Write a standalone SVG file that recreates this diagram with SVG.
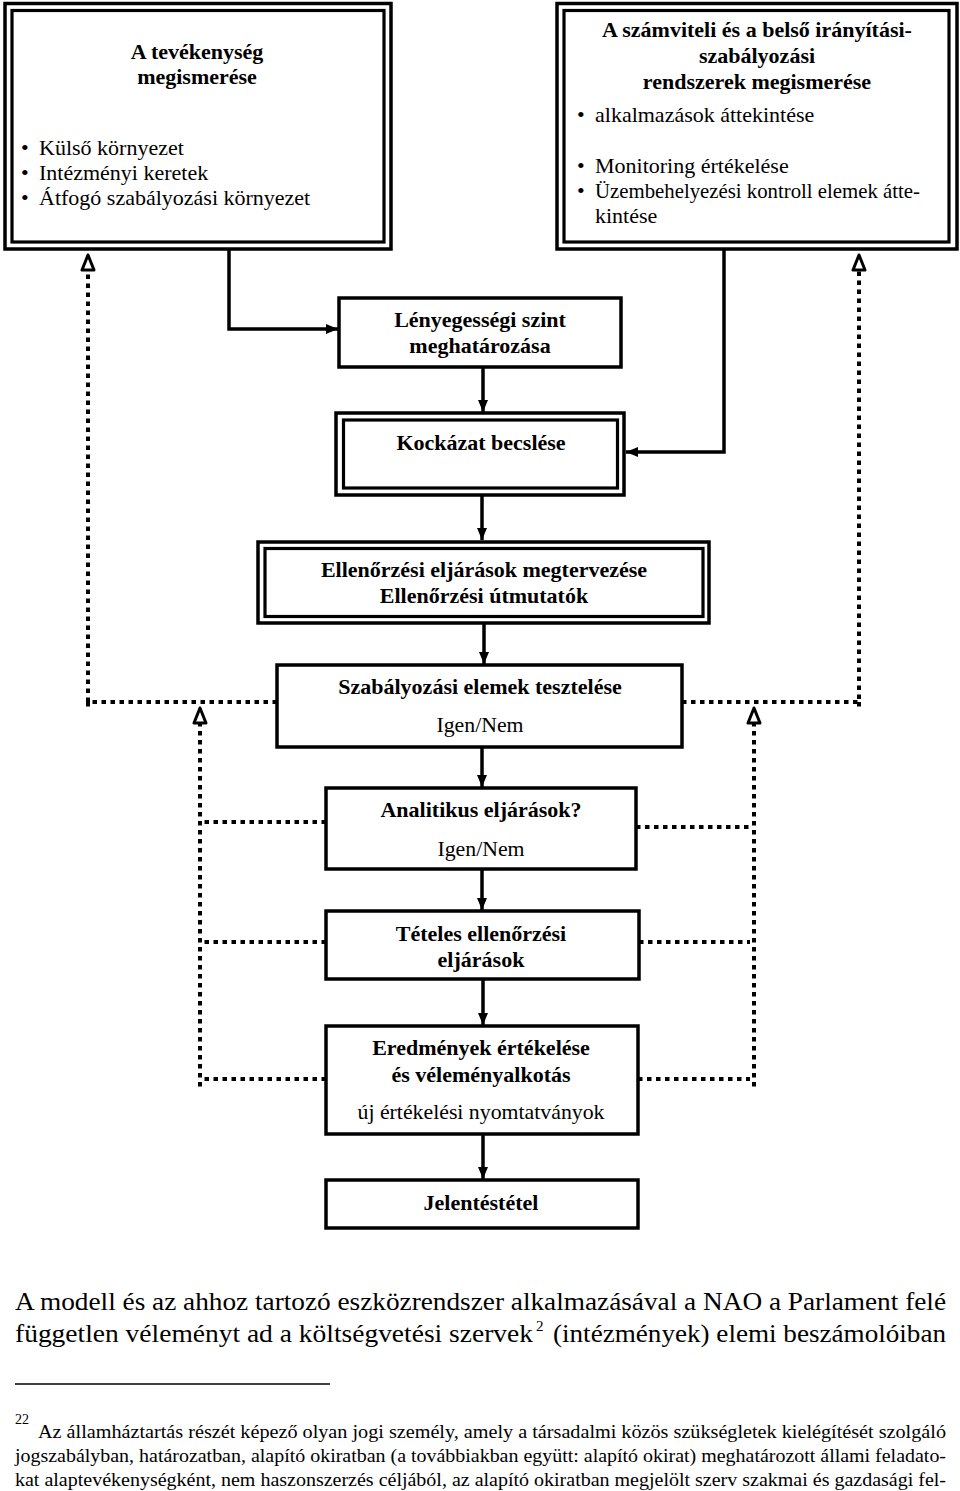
<svg xmlns="http://www.w3.org/2000/svg" width="960" height="1491" viewBox="0 0 960 1491">
<style>
.box{fill:#fff;stroke:#000;stroke-width:3.5}
.in{fill:none;stroke:#000;stroke-width:3.2}
.t{font-family:"Liberation Serif","Times New Roman",serif;font-size:22px;fill:#000}
.r21{font-size:21.8px}
.b{font-weight:bold}
.c{text-anchor:middle}
.solid{fill:none;stroke:#000;stroke-width:3.5;marker-end:url(#arr)}
.dot{fill:none;stroke:#000;stroke-width:4;stroke-dasharray:4.5 4.5}
.oh{fill:#fff;stroke:#000;stroke-width:3;stroke-linejoin:round}
.p{font-family:"Liberation Serif","Times New Roman",serif;font-size:26px;fill:#000}
.f{font-family:"Liberation Serif","Times New Roman",serif;font-size:19px;fill:#000}
</style>
<defs>
<marker id="arr" viewBox="0 0 12 10" refX="12" refY="5" markerWidth="12" markerHeight="10" markerUnits="userSpaceOnUse" orient="auto">
<path d="M0,0 L12,5 L0,10 z" fill="#000"/>
</marker>
</defs>
<rect width="960" height="1491" fill="#fff"/>

<g id="connectors">
<polyline class="solid" points="229,250 229,329 338,329"/>
<polyline class="solid" points="724,249 724,452 626,452"/>
<line class="solid" x1="483" y1="367" x2="483" y2="412"/>
<line class="solid" x1="482" y1="495" x2="482" y2="540"/>
<line class="solid" x1="484" y1="623" x2="484" y2="664"/>
<line class="solid" x1="482" y1="747" x2="482" y2="787"/>
<line class="solid" x1="482" y1="869" x2="482" y2="910"/>
<line class="solid" x1="483" y1="979" x2="483" y2="1025"/>
<line class="solid" x1="483" y1="1134" x2="483" y2="1179"/>
<polyline class="dot" points="277,702 88,702 88,268"/>
<line class="dot" x1="88" y1="702" x2="88" y2="711"/>
<polyline class="dot" points="682,702 859,702 859,268"/>
<line class="dot" x1="859" y1="702" x2="859" y2="711"/>
<line class="dot" x1="200" y1="722" x2="200" y2="1091"/>
<line class="dot" x1="754" y1="722" x2="754" y2="1091"/>
<line class="dot" x1="326" y1="822" x2="204" y2="822"/>
<line class="dot" x1="636" y1="827" x2="750" y2="827"/>
<line class="dot" x1="326" y1="942" x2="204" y2="942"/>
<line class="dot" x1="639" y1="942" x2="750" y2="942"/>
<line class="dot" x1="326" y1="1079" x2="204" y2="1079"/>
<line class="dot" x1="638" y1="1079" x2="750" y2="1079"/>
<polygon class="oh" points="88,255 82,270 94,270"/>
<polygon class="oh" points="859,255 853,270 865,270"/>
<polygon class="oh" points="200,708 194,723 206,723"/>
<polygon class="oh" points="754,708 748,723 760,723"/>
</g>

<g id="n-tevekenyseg">
<rect class="box" x="5" y="3.5" width="386" height="245.5"/>
<rect class="in" x="12" y="10.5" width="372" height="231.5"/>
<text class="t b c" x="197" y="59">A tevékenység</text>
<text class="t b c" x="197" y="84">megismerése</text>
<text class="t" x="21" y="155">•</text>
<text class="t" x="39" y="155">Külső környezet</text>
<text class="t" x="21" y="180">•</text>
<text class="t" x="39" y="180">Intézményi keretek</text>
<text class="t" x="21" y="205">•</text>
<text class="t" x="39" y="205">Átfogó szabályozási környezet</text>
</g>

<g id="n-szamviteli">
<rect class="box" x="557" y="3.5" width="400" height="245.5"/>
<rect class="in" x="564" y="10.5" width="385" height="231.5"/>
<text class="t b c" x="757" y="37">A számviteli és a belső irányítási-</text>
<text class="t b c" x="757" y="63">szabályozási</text>
<text class="t b c" x="757" y="89">rendszerek megismerése</text>
<text class="t" x="577" y="122">•</text>
<text class="t" x="595" y="122">alkalmazások áttekintése</text>
<text class="t" x="577" y="173">•</text>
<text class="t" x="595" y="173">Monitoring értékelése</text>
<text class="t" x="577" y="198">•</text>
<text class="t" x="595" y="198" textLength="325" lengthAdjust="spacingAndGlyphs">Üzembehelyezési kontroll elemek átte-</text>
<text class="t" x="595" y="223">kintése</text>
</g>

<g id="n-lenyegesseg">
<rect class="box" x="339" y="298" width="282" height="69"/>
<text class="t b c" x="480" y="327">Lényegességi szint</text>
<text class="t b c" x="480" y="353">meghatározása</text>
</g>

<g id="n-kockazat">
<rect class="box" x="336" y="413" width="288" height="82"/>
<rect class="in" x="343.5" y="420" width="274" height="68"/>
<text class="t b c" x="481" y="450">Kockázat becslése</text>
</g>

<g id="n-ellenorzesi">
<rect class="box" x="258" y="542" width="451" height="81"/>
<rect class="in" x="265" y="548.5" width="438" height="68"/>
<text class="t b c" x="484" y="577">Ellenőrzési eljárások megtervezése</text>
<text class="t b c" x="484" y="603">Ellenőrzési útmutatók</text>
</g>

<g id="n-szabalyozasi">
<rect class="box" x="277" y="665" width="405" height="82"/>
<text class="t b c" x="480" y="694">Szabályozási elemek tesztelése</text>
<text class="t r21 c" x="480" y="732">Igen/Nem</text>
</g>

<g id="n-analitikus">
<rect class="box" x="326" y="788" width="310" height="81"/>
<text class="t b c" x="481" y="817">Analitikus eljárások?</text>
<text class="t r21 c" x="481" y="856">Igen/Nem</text>
</g>

<g id="n-teteles">
<rect class="box" x="326" y="911" width="313" height="68"/>
<text class="t b c" x="481" y="941">Tételes ellenőrzési</text>
<text class="t b c" x="481" y="967">eljárások</text>
</g>

<g id="n-eredmenyek">
<rect class="box" x="326" y="1026" width="312" height="108"/>
<text class="t b c" x="481" y="1055">Eredmények értékelése</text>
<text class="t b c" x="481" y="1082">és véleményalkotás</text>
<text class="t r21 c" x="481" y="1119">új értékelési nyomtatványok</text>
</g>

<g id="n-jelentes">
<rect class="box" x="326" y="1180" width="312" height="48"/>
<text class="t b c" x="481" y="1210">Jelentéstétel</text>
</g>

<g id="text-body">
<text class="p" x="15" y="1310" textLength="931" lengthAdjust="spacingAndGlyphs">A modell és az ahhoz tartozó eszközrendszer alkalmazásával a NAO a Parlament felé</text>
<text class="p" x="15" y="1342" textLength="518" lengthAdjust="spacingAndGlyphs">független véleményt ad a költségvetési szervek</text>
<text class="p" x="536" y="1331" style="font-size:15px">2</text>
<text class="p" x="553" y="1342" textLength="393" lengthAdjust="spacingAndGlyphs">(intézmények) elemi beszámolóiban</text>
<line x1="15" y1="1384" x2="330" y2="1384" stroke="#000" stroke-width="1.5"/>
<text class="f" x="15" y="1424" style="font-size:14px">22</text>
<text class="f" x="38" y="1438" textLength="908" lengthAdjust="spacingAndGlyphs">Az államháztartás részét képező olyan jogi személy, amely a társadalmi közös szükségletek kielégítését szolgáló</text>
<text class="f" x="15" y="1462" textLength="931" lengthAdjust="spacingAndGlyphs">jogszabályban, határozatban, alapító okiratban (a továbbiakban együtt: alapító okirat) meghatározott állami feladato-</text>
<text class="f" x="15" y="1486" textLength="931" lengthAdjust="spacingAndGlyphs">kat alaptevékenységként, nem haszonszerzés céljából, az alapító okiratban megjelölt szerv szakmai és gazdasági fel-</text>
</g>
</svg>
